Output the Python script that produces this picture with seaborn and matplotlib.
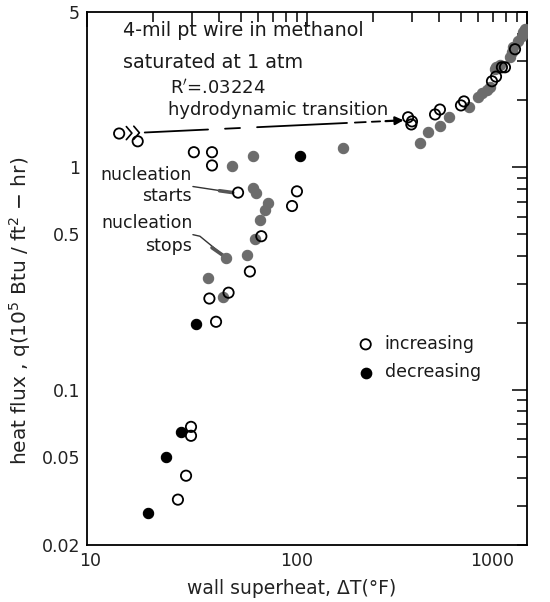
import numpy as np
import pandas as pd
import matplotlib
matplotlib.use("Agg")
import matplotlib.pyplot as plt
import matplotlib.ticker as mticker
import matplotlib.transforms as mtrans
import seaborn as sns

sns.set_theme(style="white")
plt.rcParams['font.family'] = ['DejaVu Sans']

# ---- data ----
inc_x = [14.0, 17.0, 30.6, 37.0, 37.0, 48.6, 90.0, 85.5, 62.0, 55.0, 36.0, 44.0, 38.6,
         29.7, 29.7, 28.2, 25.9,
         288, 300, 298, 382, 402, 501, 517, 693, 723, 769, 794, 882]
inc_y = [1.42, 1.31, 1.17, 1.17, 1.02, 0.77, 0.78, 0.67, 0.49, 0.34, 0.257, 0.273, 0.202,
         0.068, 0.062, 0.041, 0.032,
         1.68, 1.61, 1.56, 1.73, 1.82, 1.90, 1.98, 2.44, 2.56, 2.82, 2.82, 3.40]

dec_x = [93, 31.3, 26.7, 22.9, 18.9]
dec_y = [1.13, 0.198, 0.0645, 0.0498, 0.028]

# decreasing points printed in gray in the original figure
decg_x = [146, 45.6, 56.8, 56.8, 58.7, 66.5, 64.4, 61.1, 58, 53.4, 42.8, 35.5, 41.5,
          326, 355, 402, 442, 545, 599, 624, 658, 679, 723, 754, 716, 837, 855, 864,
          910, 949, 959, 979]
decg_y = [1.22, 1.01, 1.12, 0.81, 0.77, 0.69, 0.645, 0.58, 0.478, 0.405, 0.393, 0.319, 0.26,
          1.29, 1.44, 1.53, 1.68, 1.86, 2.08, 2.17, 2.24, 2.31, 2.84, 2.90, 2.76, 3.13, 3.29,
          3.47, 3.69, 3.88, 4.05, 4.18]

x_ticks_major = [10, 100, 1000]
x_ticklabels = ["10", "100", "1000"]
y_labelled = {0.02: "0.02", 0.05: "0.05", 0.1: "0.1", 0.5: "0.5", 1: "1", 5: "5"}

df_inc = pd.DataFrame({"x": inc_x, "y": inc_y})
df_dec = pd.DataFrame({"x": dec_x, "y": dec_y})
df_decg = pd.DataFrame({"x": decg_x, "y": decg_y})

fig = plt.figure(figsize=(5.5, 6.02), dpi=100)
ax = fig.add_axes([87/550, 1-545/602, 440/550, 533/602])
ax.set_xscale("log")
ax.set_yscale("log")
ax.set_xlim(10, 1000)
ax.set_ylim(0.02, 5)

ms = 55
sns.scatterplot(data=df_decg, x="x", y="y", ax=ax, s=ms, color="#6c6c6c",
                edgecolor="#6c6c6c", linewidth=0.8, zorder=3, legend=False)
sns.scatterplot(data=df_dec, x="x", y="y", ax=ax, s=ms, color="black",
                edgecolor="black", linewidth=0.8, zorder=4, legend=False)
sns.scatterplot(data=df_inc, x="x", y="y", ax=ax, s=ms, facecolor="none",
                edgecolor="black", linewidth=1.3, zorder=5, legend=False)

# ticks
ax.xaxis.set_major_locator(mticker.FixedLocator(x_ticks_major))
ax.xaxis.set_major_formatter(mticker.FixedFormatter(x_ticklabels))
ax.xaxis.set_minor_locator(mticker.LogLocator(base=10, subs=np.arange(2, 10)))
ax.xaxis.set_minor_formatter(mticker.NullFormatter())
ax.yaxis.set_major_locator(mticker.LogLocator(base=10, subs=(1.0,)))
ax.yaxis.set_minor_locator(mticker.LogLocator(base=10, subs=np.arange(2, 10)))

def yfmt(v, pos):
    for k, lab in y_labelled.items():
        if abs(v - k) / k < 1e-6:
            return lab
    return ""

ax.yaxis.set_major_formatter(mticker.FuncFormatter(yfmt))
ax.yaxis.set_minor_formatter(mticker.FuncFormatter(yfmt))
ax.tick_params(which="both", direction="in", top=True, right=True, color="black",
               width=1.1, labelsize=12.5, labelcolor="#222222")
ax.tick_params(which="major", length=11, pad=5)
ax.tick_params(which="minor", length=7, pad=5)
for sp in ax.spines.values():
    sp.set_color("black")
    sp.set_linewidth(1.3)

# shift the x tick labels like in the original print
fig.canvas.draw()
offsets = {"10": 3, "100": -10, "1000": -35}
for tick in ax.xaxis.get_major_ticks():
    lab = tick.label1.get_text()
    if lab in offsets:
        tick.label1.set_transform(tick.label1.get_transform() +
                                  mtrans.ScaledTranslation(offsets[lab] / 100, 0,
                                                           fig.dpi_scale_trans))

ax.set_xlabel("wall superheat, ΔT(°F)", fontsize=13.5, color="#222222")
ax.xaxis.set_label_coords(0.466, -0.081, transform=ax.transAxes)
ax.xaxis.label.set_va("center")
ax.set_ylabel("heat flux , q(10$^5$ Btu / ft$^2$ − hr)", fontsize=14.5, color="#222222")
ax.yaxis.set_label_coords(-0.123, 0.44)

# text annotations
tc = "#1a1a1a"
fs = 12.5
ax.text(0.082, 0.966, "4-mil pt wire in methanol", transform=ax.transAxes, fontsize=13.8,
        va="center", ha="left", color=tc)
ax.text(0.082, 0.906, "saturated at 1 atm", transform=ax.transAxes, fontsize=13.8,
        va="center", ha="left", color=tc)
ax.text(0.189, 0.857, r"R$^{\prime}$=.03224", transform=ax.transAxes, fontsize=13,
        va="center", ha="left", color=tc)
ax.text(0.184, 0.816, "hydrodynamic transition", transform=ax.transAxes, fontsize=13,
        va="center", ha="left", color=tc)
ax.text(0.239, 0.694, "nucleation", transform=ax.transAxes, fontsize=fs, va="center",
        ha="right", color=tc, bbox=dict(facecolor="white", edgecolor="none", pad=0.5))
ax.text(0.239, 0.655, "starts", transform=ax.transAxes, fontsize=fs, va="center",
        ha="right", color=tc)
ax.text(0.241, 0.604, "nucleation", transform=ax.transAxes, fontsize=fs, va="center",
        ha="right", color=tc, bbox=dict(facecolor="white", edgecolor="none", pad=0.5))
ax.text(0.239, 0.561, "stops", transform=ax.transAxes, fontsize=fs, va="center",
        ha="right", color=tc)

# hydrodynamic transition arrow (solid + dashed)
def line_y(x):
    lx0, ly0, lx1, ly1 = np.log10(18.3), np.log10(1.435), np.log10(280), np.log10(1.63)
    return 10 ** (ly0 + (np.log10(x) - lx0) * (ly1 - ly0) / (lx1 - lx0))

segs = [(18.3, 35.5), (42.4, 49.6), (59.3, 152), (165, 185), (197, 215)]
for a, b in segs:
    xs = np.array([a, b])
    ax.plot(xs, line_y(xs), color="black", lw=1.3, zorder=6)
ax.annotate("", xy=(283, line_y(283)), xytext=(221, line_y(221)),
            arrowprops=dict(arrowstyle="-|>", color="black", lw=1.6, mutation_scale=12),
            zorder=6)
# fletching at the tail
for cx in (16.0, 17.3):
    xs = np.array([cx / 1.06, cx, cx / 1.06])
    ys = np.array([line_y(cx) * 1.07, line_y(cx), line_y(cx) / 1.07])
    ax.plot(xs, ys, color="black", lw=1.2, zorder=6)

# leader lines for nucleation labels
ax.plot([30.3, 46.0], [0.82, 0.77], color="#333333", lw=1.0, zorder=2)
ax.plot([40.0, 46.0], [0.785, 0.77], color="#555555", lw=2.6, zorder=2)
ax.plot([30.3, 32.6, 42.4], [0.498, 0.49, 0.396], color="#333333", lw=1.0, zorder=2)
ax.plot([37.0, 42.4], [0.435, 0.396], color="#555555", lw=2.6, zorder=2)

# legend
h1 = ax.scatter([], [], s=ms, facecolor="none", edgecolor="black", linewidth=1.3)
h2 = ax.scatter([], [], s=ms, color="black")
leg = ax.legend([h1, h2], ["increasing", "decreasing"], loc="upper left",
                bbox_to_anchor=(0.586, 0.417), frameon=False, fontsize=fs,
                handlelength=1.0, handletextpad=0.6, labelspacing=0.6, borderpad=0.2)
for t in leg.get_texts():
    t.set_color(tc)

fig.savefig("out.png", dpi=100)
